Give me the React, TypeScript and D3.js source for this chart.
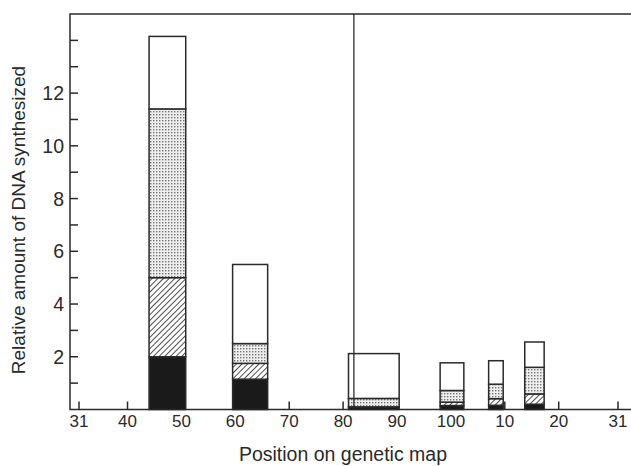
import { useRef, useEffect } from "react";
import * as d3 from "d3";

// map positions (minutes); values below 31 sit after 100 on the wrapped axis
const barStart = [44, 59.5, 81, 98, 7, 13.7];
const barEnd = [50.8, 66, 90.4, 2.4, 9.7, 17.3];
const black = [2.0, 1.15, 0.1, 0.15, 0.16, 0.2];
const hatched = [3.0, 0.6, 0, 0.13, 0.25, 0.39];
const dotted = [6.4, 0.75, 0.32, 0.44, 0.55, 1.01];
const open = [2.75, 3.0, 1.7, 1.05, 0.89, 0.96];

const xTicks = [31, 40, 50, 60, 70, 80, 90, 100, 10, 20, 31];
const yTicks = [1, 2, 3, 4, 5, 6, 7, 8, 9, 10, 11, 12, 13, 14];
const yLabels = [2, 4, 6, 8, 10, 12];
const markerPos = 82;

const wrap = (v: number, i: number) => (i > 0 && v <= 31 ? v + 100 : v);

const App = () => {
  const ref = useRef<HTMLDivElement>(null);

  useEffect(() => {
    const W = 631;
    const H = 466;
    const left = 70;
    const top = 14;
    const bottom = 409.5;

    const svg = d3
      .select(ref.current)
      .html("")
      .append("svg")
      .attr("width", W)
      .attr("height", H)
      .style("position", "absolute")
      .style("left", "0px")
      .style("top", "0px")
      .style("background", "#fff");

    const defs = svg.append("defs");
    const dots = defs
      .append("pattern")
      .attr("id", "dots")
      .attr("patternUnits", "userSpaceOnUse")
      .attr("width", 3)
      .attr("height", 3);
    dots.append("rect").attr("width", 3).attr("height", 3).attr("fill", "#eee");
    dots.append("rect").attr("width", 1.4).attr("height", 1.4).attr("fill", "#777");
    const hatch = defs
      .append("pattern")
      .attr("id", "hatch")
      .attr("patternUnits", "userSpaceOnUse")
      .attr("width", 4)
      .attr("height", 4)
      .attr("patternTransform", "rotate(45)");
    hatch.append("rect").attr("width", 4).attr("height", 4).attr("fill", "#fff");
    hatch
      .append("line")
      .attr("x1", 0)
      .attr("y1", 0)
      .attr("x2", 0)
      .attr("y2", 4)
      .attr("stroke", "#222")
      .attr("stroke-width", 1.6);

    const x = d3.scaleLinear().domain([31, 131]).range([79, 618]);
    const y = d3.scaleLinear().domain([0, 15]).range([bottom, top]);

    const ink = "#2a2a2a";
    const font = "'Liberation Sans', Arial, sans-serif";

    // frame
    svg
      .append("path")
      .attr("d", `M${W},${top}H${left}V${bottom}H${W}`)
      .attr("fill", "none")
      .attr("stroke", ink)
      .attr("stroke-width", 1.5);

    // y ticks (inward) and labels
    svg
      .selectAll("line.yt")
      .data(yTicks)
      .enter()
      .append("line")
      .attr("x1", left)
      .attr("x2", left + 8)
      .attr("y1", (d) => y(d))
      .attr("y2", (d) => y(d))
      .attr("stroke", ink)
      .attr("stroke-width", 1.5);
    svg
      .selectAll("text.yl")
      .data(yLabels)
      .enter()
      .append("text")
      .attr("x", left - 6)
      .attr("y", (d) => y(d) + 7)
      .attr("text-anchor", "end")
      .attr("font-family", font)
      .attr("font-size", 19.5)
      .attr("fill", ink)
      .text((d) => d);

    // x ticks (inward) and labels
    const xs = xTicks.map((v, i) => (i > 7 ? v + 100 : v));
    svg
      .selectAll("line.xt")
      .data(xs)
      .enter()
      .append("line")
      .attr("x1", (d) => x(d))
      .attr("x2", (d) => x(d))
      .attr("y1", bottom)
      .attr("y2", bottom - 8)
      .attr("stroke", ink)
      .attr("stroke-width", 1.5);
    svg
      .selectAll("text.xl")
      .data(xs)
      .enter()
      .append("text")
      .attr("x", (d) => x(d))
      .attr("y", 427)
      .attr("text-anchor", "middle")
      .attr("font-family", font)
      .attr("font-size", 17)
      .attr("fill", ink)
      .text((d, i) => xTicks[i]);

    // stacked bars
    const rows = barStart.map((s, i) => ({
      x0: wrap(s, i),
      x1: barEnd[i] < s ? barEnd[i] + 100 : wrap(barEnd[i], i),
      black: black[i],
      hatched: hatched[i],
      dotted: dotted[i],
      open: open[i],
    }));
    const keys = ["black", "hatched", "dotted", "open"];
    const fills: Record<string, string> = {
      black: "#1a1a1a",
      hatched: "url(#hatch)",
      dotted: "url(#dots)",
      open: "#fff",
    };
    const stack = d3.stack<any>().keys(keys)(rows);

    svg
      .selectAll("g.layer")
      .data(stack)
      .enter()
      .append("g")
      .each(function (layer) {
        d3.select(this)
          .selectAll("rect")
          .data(layer.filter((d) => d[1] - d[0] > 0))
          .enter()
          .append("rect")
          .attr("x", (d) => x(d.data.x0))
          .attr("width", (d) => x(d.data.x1) - x(d.data.x0))
          .attr("y", (d) => y(d[1]))
          .attr("height", (d) => y(d[0]) - y(d[1]))
          .attr("fill", fills[layer.key])
          .attr("stroke", ink)
          .attr("stroke-width", 1.5);
      });

    // vertical marker line
    svg
      .append("line")
      .attr("x1", x(markerPos))
      .attr("x2", x(markerPos))
      .attr("y1", top)
      .attr("y2", bottom)
      .attr("stroke", ink)
      .attr("stroke-width", 1.3);

    // axis titles
    svg
      .append("text")
      .attr("transform", `translate(25,220) rotate(-90)`)
      .attr("text-anchor", "middle")
      .attr("font-family", font)
      .attr("font-size", 19)
      .attr("fill", ink)
      .text("Relative amount of DNA synthesized");
    svg
      .append("text")
      .attr("x", 343)
      .attr("y", 461)
      .attr("text-anchor", "middle")
      .attr("font-family", font)
      .attr("font-size", 19.5)
      .attr("fill", ink)
      .text("Position on genetic map");
  }, []);

  return <div ref={ref} />;
};

export default App;
